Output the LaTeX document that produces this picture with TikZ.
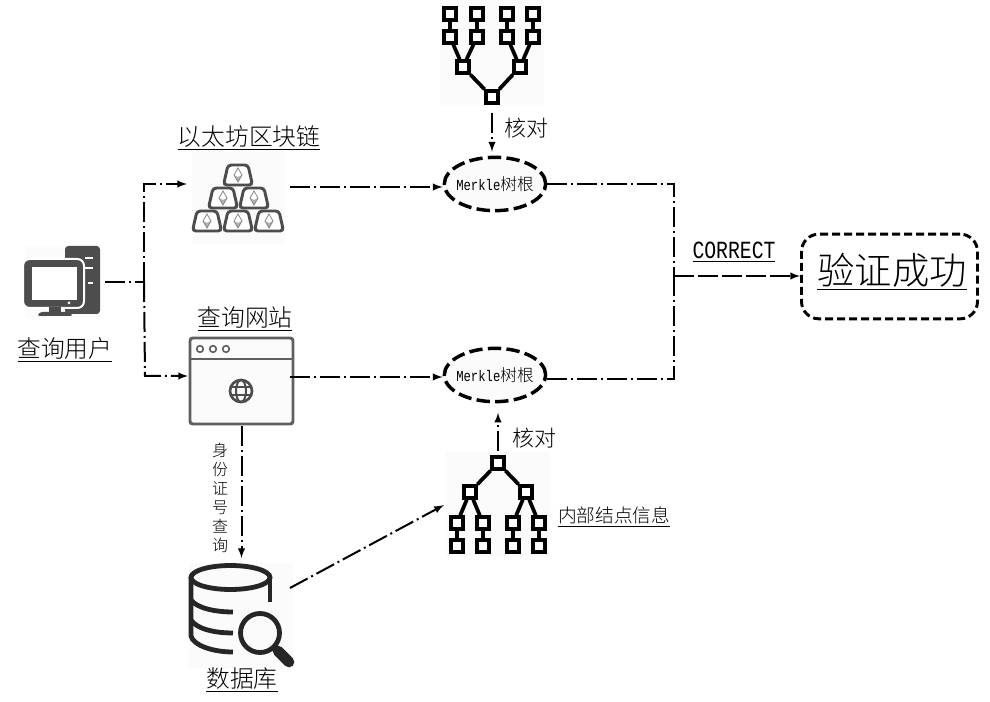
\documentclass[tikz,border=0pt]{standalone}
\usepackage{fontspec}
\setmainfont{Liberation Serif}
\newfontfamily\cjk{Noto Sans CJK SC}[UprightFont=* Light]
\newfontfamily\latinmono{Liberation Mono}[FakeStretch=0.8]
\usetikzlibrary{shapes.geometric}

\definecolor{icongray}{HTML}{4D4D4D}
\definecolor{iconback}{HTML}{FBFBFB}

\tikzset{
  linkdash/.style={line width=1.5pt, dash pattern=on 15pt off 3pt on 1.5pt off 3pt},
  iconbox/.style={fill=iconback, inner sep=0pt, outer sep=3.75pt},
  rootoval/.style={draw, ellipse, line width=2.6pt, dash pattern=on 10pt off 4pt, fill=iconback, minimum width=76pt, minimum height=40pt, inner xsep=-2.2pt, inner ysep=0pt, font=\cjk\fontsize{12.5}{14}\selectfont},
  hashbox/.style={draw, fill=white, line width=3pt, minimum size=8.5pt, inner sep=0pt},
  hashline/.style={line width=2.8pt},
  caption/.style={inner sep=0pt, font=\cjk\fontsize{17.8}{20}\selectfont},
}

% one gold bar of the pile
\newcommand{\ethbrick}[2]{
  \begin{scope}[shift={(#1,#2)}]
    \draw[icongray, line width=2.2pt, fill=white, rounded corners=2.5pt] (-10,-10) -- (10,-10) -- (14.5,10) -- (-14.5,10) -- cycle;
    \fill[gray!60] (-4,0) -- (0,7) -- (4,0) -- (0,2) -- cycle;
    \draw[gray, line width=.6pt] (0,-7) -- (4,0) -- (0,7) -- (-4,0) -- cycle;
  \end{scope}
}

\begin{document}
\begin{tikzpicture}[x=0.75pt, y=-0.75pt, >=latex]
  \useasboundingbox (0,0) rectangle (990,702);

  % icon areas
  \node[iconbox, minimum width=56.25pt, minimum height=54pt] (user) at (62,282) {};
  \node[iconbox, minimum width=69.75pt, minimum height=69.75pt] (ethchain) at (238.5,198) {};
  \node[iconbox, minimum width=78pt, minimum height=78.75pt] (database) at (240.5,615.5) {};
  \node[iconbox, minimum width=78pt, minimum height=80pt] (treeTop) at (492,53) {};
  \node[iconbox, minimum width=78pt, minimum height=78.75pt] (treeInner) at (498,504.5) {};
  \node[draw=icongray!90, fill=iconback, line width=2.2pt, rounded corners=2pt, minimum width=77.25pt, minimum height=64.5pt, inner sep=0pt, outer sep=1.5pt] (website) at (241.5,381) {};

  % computer
  \fill[icongray, rounded corners=2.5pt] (65,246) rectangle (100,314);
  \draw[white, line width=1.5pt, fill=icongray, rounded corners=5pt] (23,259) rectangle (84,308);
  \fill[white] (32,267) rectangle (77,300);
  \fill[icongray] (49,307) rectangle (61,313);
  \fill[icongray, rounded corners=2pt] (37,316) -- (40,312) -- (70,312) -- (73,316) -- cycle;
  \fill[white] (85,257) rectangle (93,259);
  \fill[white] (85,267) rectangle (93,269);
  \fill[white] (88,282) rectangle (93,284);
  \fill[white] (69,303) circle (1.5);

  % gold bars
  \ethbrick{238}{175}
  \ethbrick{223}{198}
  \ethbrick{254}{198}
  \ethbrick{207}{221}
  \ethbrick{238}{221}
  \ethbrick{269}{221}

  % browser window
  \draw[icongray!90, line width=1.5pt] (190,359) -- (293,359);
  \foreach \x in {200,213,226}
    \draw[icongray!90, line width=1.2pt] (\x,349) circle (3.3);
  \draw[icongray, line width=2pt] (241,391) circle (11);
  \draw[icongray, line width=1.5pt] (241,391) ellipse (5 and 11);
  \draw[icongray, line width=1.5pt] (230,387) -- (252,387);
  \draw[icongray, line width=1.5pt] (230,395) -- (252,395);

  % database with magnifier
  \draw[black!85, line width=3.6pt] (230.5,577.5) ellipse (39.5 and 12);
  \draw[black!85, line width=3.6pt] (191,577) -- (191,636) .. controls (193,645) and (212,652) .. (233,652);
  \draw[black!85, line width=3.6pt] (270,577) -- (270,602);
  \draw[black!85, line width=3.6pt] (191,600) .. controls (196,607) and (212,612) .. (233,612);
  \draw[black!85, line width=3.6pt] (191,620) .. controls (196,628) and (212,633) .. (233,633);
  \draw[black!85, line width=3.6pt] (260,633) circle (19.5);
  \draw[black!85, line width=8pt, line cap=round] (278,651) -- (289,662);

  % ovals and result
  \node[rootoval] (merkleA) at (495,184) {{\latinmono\fontsize{11.5}{12}\selectfont Merkle}树根};
  \node[rootoval] (merkleB) at (495,375) {{\latinmono\fontsize{11.5}{12}\selectfont Merkle}树根};
  \node[draw, line width=2.2pt, dash pattern=on 6pt off 3pt, rounded corners=13pt, minimum width=132pt, minimum height=63.5pt, inner sep=0pt] (success) at (889.5,276.5) {};
  \node[inner sep=0pt, font=\cjk\fontsize{28}{30}\selectfont] (successLabel) at (892,272) {\underline{验证成功}};

  % upper tree
  \foreach \name/\x/\y in {ta/450/14, tb/477/14, tc/507/14, td/533/14,
                           sa/450/37, sb/477/37, sc/507/37, sd/533/37,
                           ma/463/67, mb/520/67, topRoot/492/97}
    \node[hashbox] (\name) at (\x,\y) {};
  \draw[hashline] (ta) -- (sa);
  \draw[hashline] (tb) -- (sb);
  \draw[hashline] (tc) -- (sc);
  \draw[hashline] (td) -- (sd);
  \draw[hashline] (sa) -- (ma);
  \draw[hashline] (sb) -- (ma);
  \draw[hashline] (sc) -- (mb);
  \draw[hashline] (sd) -- (mb);
  \draw[hashline] (ma) -- (topRoot);
  \draw[hashline] (mb) -- (topRoot);

  % lower tree
  \foreach \name/\x/\y in {innerRoot/498/463, na/470/492, nb/526/492,
                           pa/457/523, pb/483/523, pc/513/523, pd/539/523,
                           qa/457/546, qb/483/546, qc/513/546, qd/539/546}
    \node[hashbox] (\name) at (\x,\y) {};
  \draw[hashline] (innerRoot) -- (na);
  \draw[hashline] (innerRoot) -- (nb);
  \draw[hashline] (na) -- (pa);
  \draw[hashline] (na) -- (pb);
  \draw[hashline] (nb) -- (pc);
  \draw[hashline] (nb) -- (pd);
  \draw[hashline] (pa) -- (qa);
  \draw[hashline] (pb) -- (qb);
  \draw[hashline] (pc) -- (qc);
  \draw[hashline] (pd) -- (qd);

  % labels
  \node[caption] (userLabel) at (65,350) {\underline{查询用户}};
  \node[caption] (chainLabel) at (249,138) {\underline{以太坊区块链}};
  \node[caption] (siteLabel) at (245,319) {\underline{查询网站}};
  \node[caption] (dbLabel) at (242,680) {\underline{数据库}};
  \node[caption, font=\cjk\fontsize{14}{15}\selectfont] (innerLabel) at (614,517) {\underline{内部结点信息}};
  \node[caption, font=\cjk\fontsize{16.5}{18}\selectfont] (checkA) at (526,128) {核对};
  \node[caption, font=\cjk\fontsize{16.5}{18}\selectfont] (checkB) at (534,438) {核对};
  \node[caption, align=center, font=\cjk\fontsize{12}{14.25}\selectfont] (idLabel) at (220,498) {身\\份\\证\\号\\查\\询};
  \node[inner sep=0pt, font=\latinmono\fontsize{18.5}{20}\selectfont] (okLabel) at (734,252) {\underline{CORRECT}};

  % turning points
  \coordinate (fork) at (144,282);
  \coordinate (upTurn) at (144,184);
  \coordinate (downTurn) at (145,376);
  \coordinate (chainOut) at (290,187);
  \coordinate (siteOut) at (290,377);
  \coordinate (merge) at (674,276);
  \coordinate (dbOut) at (290,588);
  \coordinate (treeIn) at (444,505);

  \draw[linkdash] (user.east) -- (fork);
  \draw[linkdash, ->] (fork) -- (upTurn) -- (upTurn -| ethchain.west);
  \draw[linkdash, ->] (fork) -- (downTurn) -- (downTurn -| website.west);
  \draw[linkdash, ->] (chainOut) -- (chainOut -| merkleA.west);
  \draw[linkdash, ->] (siteOut) -- (siteOut -| merkleB.west);
  \draw[linkdash] (merkleA.east) -- (merkleA.east -| merge) -- (merge);
  \draw[linkdash] (merkleB.east |- 0,379) -- (merge |- 0,379) -- (merge);
  \draw[line width=1.5pt, dash pattern=on 15pt off 3pt, ->] (merge) -- (success.west |- merge);
  \draw[linkdash, ->, shorten <=6pt, shorten >=3pt] (topRoot) -- (topRoot |- merkleA.north);
  \draw[linkdash, ->, shorten <=3pt, shorten >=7pt] (innerRoot) -- (innerRoot |- merkleB.south);
  \draw[linkdash, ->] (website.south) -- (website.south |- database.north);
  \draw[linkdash, ->] (dbOut) -- (treeIn);
\end{tikzpicture}
\end{document}
